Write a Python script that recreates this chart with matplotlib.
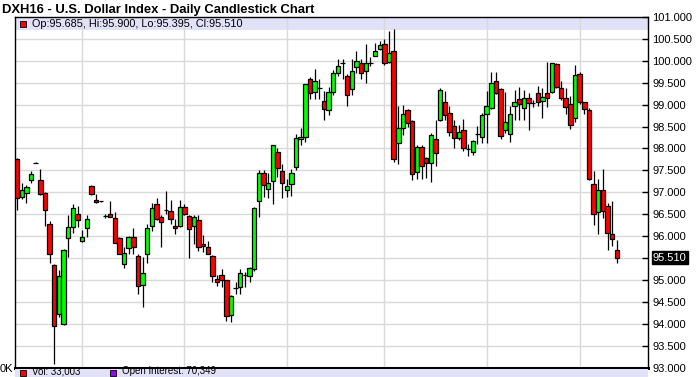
import numpy as np
import matplotlib
matplotlib.use("Agg")
import matplotlib.pyplot as plt
from matplotlib.patches import Rectangle

plt.rcParams['font.family'] = ['Liberation Sans', 'DejaVu Sans']

# daily OHLC, DXH16
opens = [97.77, 96.89, 96.99, 97.29, 97.67, 97.27, 96.99, 96.28, 95.35, 94.21,
         93.99, 95.95, 96.21, 96.51, 95.88, 96.18, 97.14, 96.83, 96.79, 96.45,
         96.51, 96.42, 95.96, 95.37, 95.73, 95.98, 95.55, 94.89, 95.60, 96.24,
         96.74, 96.44, 96.60, 96.57, 96.22, 96.24, 96.66, 96.46, 96.22, 96.37,
         95.82, 95.76, 95.55, 95.02, 95.11, 94.99, 94.20, 94.82, 94.84, 95.10,
         95.08, 95.24, 96.80, 97.45, 97.08, 97.25, 97.92, 97.48, 97.04, 97.19,
         97.58, 98.22, 98.25, 99.59, 99.28, 99.38, 99.09, 98.87, 99.29, 99.72,
         99.94, 99.65, 99.36, 99.85, 99.96, 99.77, 99.95, 100.10, 100.28, 100.38,
         99.98, 100.22, 98.12, 98.46, 98.87, 98.62, 97.46, 98.04, 97.79, 97.67,
         98.21, 98.66, 99.07, 98.80, 98.52, 98.24, 98.41, 97.98, 97.93, 98.34,
         98.27, 98.78, 98.93, 99.53, 99.35, 98.41, 98.34, 98.97, 99.12, 98.93,
         99.14, 99.03, 99.27, 99.08, 99.27, 99.29, 99.92, 99.39, 99.14, 99.02,
         98.70, 99.71, 99.05, 98.87, 97.19, 96.55, 97.06, 96.69, 96.05, 95.685]
highs = [97.78, 97.21, 97.16, 97.49, 97.68, 97.54, 97.00, 96.34, 95.37, 95.23,
         95.70, 96.47, 96.73, 96.68, 96.13, 96.49, 97.16, 96.97, 96.80, 96.50,
         96.79, 96.56, 95.98, 95.75, 96.00, 96.18, 95.58, 95.53, 96.27, 96.76,
         96.88, 96.47, 97.02, 96.83, 96.40, 96.83, 96.74, 96.47, 96.47, 96.49,
         96.02, 95.89, 95.56, 95.12, 95.25, 95.00, 94.65, 94.95, 95.24, 95.18,
         95.30, 96.66, 97.50, 97.50, 97.45, 98.08, 98.02, 97.65, 97.30, 97.54,
         98.33, 98.46, 99.46, 99.63, 99.81, 99.59, 99.31, 99.40, 99.80, 100.04,
         100.04, 99.70, 100.04, 100.22, 100.05, 100.38, 100.08, 100.41, 100.46, 100.50,
         100.69, 100.73, 98.96, 99.00, 98.90, 98.65, 98.07, 98.08, 97.80, 98.36,
         98.66, 99.37, 99.31, 98.97, 98.66, 98.53, 98.68, 98.10, 98.20, 98.51,
         98.80, 99.31, 99.75, 99.75, 99.39, 99.29, 98.98, 99.34, 99.41, 99.33,
         99.27, 99.10, 99.43, 99.37, 99.98, 99.96, 99.94, 99.54, 99.37, 99.20,
         99.90, 99.75, 99.05, 98.93, 97.48, 97.30, 97.53, 96.75, 96.79, 95.90]
lows = [96.59, 96.85, 96.76, 97.20, 97.66, 96.93, 96.24, 95.38, 93.09, 94.15,
        93.98, 95.52, 96.08, 96.21, 95.86, 95.98, 96.93, 96.76, 96.77, 96.42,
        96.43, 95.84, 95.58, 95.27, 95.58, 95.58, 94.68, 94.37, 95.39, 96.11,
        96.37, 95.75, 96.51, 96.28, 96.05, 96.21, 96.47, 95.50, 95.82, 95.66,
        95.63, 95.58, 94.95, 94.85, 94.83, 94.07, 94.04, 94.68, 94.68, 94.84,
        94.95, 95.20, 96.44, 96.89, 96.88, 96.73, 97.35, 96.88, 96.90, 96.92,
        97.50, 98.08, 98.15, 99.12, 99.12, 99.12, 98.65, 98.77, 99.21, 99.65,
        99.58, 98.98, 99.21, 99.73, 99.59, 99.50, 99.88, 100.10, 100.25, 99.90,
        99.96, 97.69, 97.65, 98.30, 98.50, 97.27, 97.30, 97.30, 97.33, 97.23,
        97.61, 98.63, 98.66, 98.28, 98.01, 98.20, 97.94, 97.82, 97.84, 98.09,
        98.13, 98.13, 98.91, 99.24, 98.22, 98.36, 98.15, 98.64, 98.66, 98.66,
        98.42, 98.95, 98.97, 98.70, 98.95, 99.27, 99.38, 99.10, 98.78, 98.44,
        98.60, 99.01, 98.78, 97.29, 96.26, 96.05, 96.41, 95.69, 95.78, 95.395]
closes = [96.88, 97.05, 97.11, 97.41, 97.67, 96.95, 96.59, 95.58, 93.95, 95.08,
          95.69, 96.21, 96.65, 96.37, 95.98, 96.38, 96.95, 96.77, 96.79, 96.45,
          96.44, 95.85, 95.60, 95.61, 95.98, 95.75, 94.85, 95.16, 96.19, 96.63,
          96.38, 96.32, 96.60, 96.38, 96.18, 96.66, 96.51, 96.16, 96.44, 95.76,
          95.77, 95.60, 95.08, 94.96, 94.99, 94.17, 94.63, 94.82, 95.16, 95.10,
          95.28, 96.65, 97.45, 97.16, 97.20, 98.07, 97.56, 97.22, 97.15, 97.45,
          98.23, 98.27, 99.46, 99.27, 99.55, 99.38, 98.90, 99.29, 99.73, 99.88,
          99.94, 99.22, 99.77, 100.00, 99.73, 99.95, 99.95, 100.22, 100.36, 99.96,
          100.17, 97.75, 98.46, 98.78, 98.58, 97.42, 98.04, 97.60, 97.67, 98.30,
          97.90, 99.33, 98.76, 98.38, 98.24, 98.38, 98.01, 97.98, 98.18, 98.34,
          98.76, 98.98, 99.50, 99.27, 98.28, 98.60, 98.79, 99.05, 99.01, 99.16,
          99.03, 99.03, 99.05, 99.18, 99.14, 99.94, 99.41, 99.14, 98.95, 98.53,
          99.67, 99.05, 98.91, 97.31, 96.50, 97.05, 96.58, 96.08, 95.93, 95.51]

# bar index of the first trading day of each month
month_starts = [14, 36, 58, 79, 101, 121]
price_ticks = np.arange(93.0, 101.01, 0.5)

vol_text = "Vol: 33,003"
oi_text = "Open Interest: 70,349"

o = np.array(opens)
h = np.array(highs)
l = np.array(lows)
c = np.array(closes)
x = np.arange(len(o))

up_col = '#00ff00'
dn_col = '#ff0000'
colors = [up_col if cc >= oo else dn_col for oo, cc in zip(o, c)]

W, H = 699, 377
fig = plt.figure(figsize=(W / 100, H / 100), dpi=100)
fig.patch.set_facecolor('white')
ax = fig.add_axes([15 / W, (H - 367.5) / H, 633 / W, 350.5 / H])

# grid
for v in price_ticks[1:-1]:
    ax.axhline(v, color='#d9d9d9', lw=1.0, zorder=0.5)
for m in month_starts:
    ax.axvline(m, color='#d9d9d9', lw=1.0, zorder=0.5)
ax.axhspan(100.7, 101.0, color='#e1e1f7', zorder=0.3, lw=0)

# candles
ax.vlines(x, l, h, color='black', lw=0.9, zorder=2)
ax.bar(x, c - o, bottom=o, width=0.95, color=colors, edgecolor='black',
       linewidth=0.9, zorder=3)

ax.set_xlim(-0.45, 135.7)
ax.set_ylim(93.0, 101.0)
ax.set_xticks([])
ax.yaxis.tick_right()
ax.set_yticks(price_ticks)
labels = ['%.3f' % v for v in price_ticks]
labels[list(np.round(price_ticks, 2)).index(95.5)] = ''
ax.set_yticklabels(labels)
ax.tick_params(axis='y', direction='in', length=4, width=1, pad=3,
               labelsize=8, colors='black')
for s in ax.spines.values():
    s.set_color('black')
    s.set_linewidth(1.0)
ax.spines['bottom'].set_linewidth(2.2)

# last price box
ax.annotate('%.3f' % closes[-1], xy=(1, closes[-1]),
            xycoords=('axes fraction', 'data'), xytext=(3.5, 0),
            textcoords='offset points', va='center', ha='left',
            fontsize=8, color='white',
            bbox=dict(boxstyle='square,pad=0.12', fc='black', ec='black'))

# title
fig.text(2 / W, 1 - 9.5 / H, "DXH16 - U.S. Dollar Index - Daily Candlestick Chart",
         fontsize=9.4, fontweight='bold', va='center', ha='left')

# top legend
fig.patches.append(Rectangle((20 / W, 1 - 27 / H), 6 / W, 6 / H, transform=fig.transFigure,
                             fc=dn_col, ec='black', lw=0.6, zorder=5))
fig.text(32 / W, 1 - 24 / H,
         "Op:%.3f, Hi:%.3f, Lo:%.3f, Cl:%.3f" % (opens[-1], highs[-1], lows[-1], closes[-1]),
         fontsize=7.8, va='center', ha='left')

# volume pane strip at the bottom
fig.patches.append(Rectangle((15 / W, 0), 633 / W, (H - 369) / H, transform=fig.transFigure,
                             fc='#e1e1f7', ec='none', zorder=0))
fig.patches.append(Rectangle((20 / W, 1 - 376 / H), 6 / W, 6 / H, transform=fig.transFigure,
                             fc=dn_col, ec='black', lw=0.6, zorder=5))
fig.text(32 / W, 0.5 / H, vol_text, fontsize=7, va='bottom', ha='left')
fig.patches.append(Rectangle((110 / W, 1 - 376 / H), 6 / W, 6 / H, transform=fig.transFigure,
                             fc='#9900ff', ec='black', lw=0.6, zorder=5))
fig.text(122 / W, 0.5 / H, oi_text, fontsize=7, va='bottom', ha='left')
fig.text(0, 1 - 369 / H, "0K", fontsize=8, va='center', ha='left')

fig.savefig('out.png', dpi=100)
